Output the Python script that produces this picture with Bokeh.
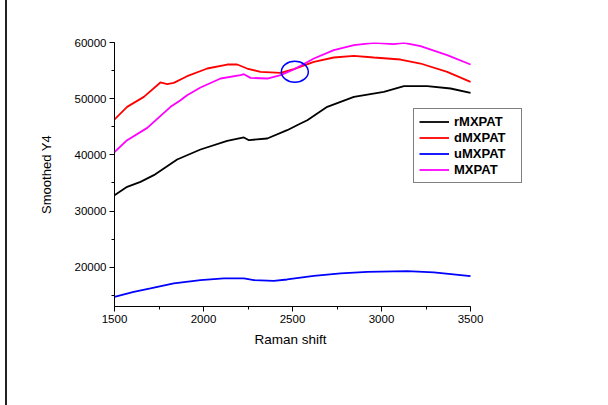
from bokeh.plotting import figure
from bokeh.models import (Legend, LegendItem, SingleIntervalTicker, Range1d, Div,
                          Title)
from bokeh.layouts import row
from bokeh.embed import file_html
from bokeh.resources import INLINE

# Smoothed Raman spectra (Raman shift vs smoothed intensity)
r_x = [1500, 1571, 1646, 1721, 1852, 1983, 2133, 2227, 2255, 2358, 2470, 2545,
       2583, 2695, 2845, 3013, 3126, 3257, 3388, 3500]
r_y = [32820, 34300, 35190, 36380, 39170, 40950, 42490, 43090, 42610, 42910,
       44390, 45580, 46170, 48540, 50320, 51210, 52220, 52220, 51810, 51030]

d_x = [1500, 1571, 1665, 1758, 1796, 1833, 1908, 2021, 2133, 2189, 2245, 2320,
       2433, 2507, 2620, 2732, 2845, 2957, 3107, 3219, 3369, 3500]
d_y = [46300, 48540, 50320, 52880, 52580, 52810, 54000, 55370, 56080, 56080,
       55370, 54770, 54590, 55250, 56550, 57330, 57615, 57330, 56970, 56260,
       54770, 52990]

u_x = [1500, 1608, 1702, 1833, 1983, 2114, 2227, 2283, 2395, 2470, 2620, 2770,
       2920, 3144, 3294, 3500]
u_y = [14720, 15610, 16210, 17100, 17690, 17990, 17990, 17690, 17570, 17810,
       18450, 18880, 19170, 19290, 19060, 18400]

m_x = [1500, 1571, 1684, 1815, 1871, 1908, 1983, 2096, 2208, 2227, 2264, 2358,
       2433, 2507, 2620, 2732, 2845, 2957, 3069, 3126, 3219, 3369, 3500]
m_y = [40500, 42610, 44800, 48540, 49730, 50620, 51990, 53590, 54180, 54360,
       53700, 53590, 54180, 55190, 57150, 58630, 59520, 59930, 59700, 59930,
       59340, 57740, 56080]

series_names = ["rMXPAT", "dMXPAT", "uMXPAT", "MXPAT"]
series_colors = ["#000000", "#ff0000", "#0000ff", "#ff00ff"]

# crossing point of dMXPAT and MXPAT, highlighted with an ellipse
cross_x = 2513
cross_y = 54790

X_START, X_END = 1500, 3500
FONT = "Liberation Sans"

# the frame runs on past 3500 so the legend box fits inside it;
# the x axis itself is bounded to 1500-3500
p = figure(width=601, height=405, output_backend="svg", toolbar_location=None,
           x_range=Range1d(X_START, 3865), y_range=Range1d(13000, 60000),
           min_border_left=107, min_border_right=73, min_border_top=42,
           min_border_bottom=99)
p.outline_line_color = None
p.grid.visible = False
p.background_fill_color = "white"
p.border_fill_color = "white"

renderers = []
for xs, ys, col in [(r_x, r_y, series_colors[0]), (d_x, d_y, series_colors[1]),
                    (u_x, u_y, series_colors[2]), (m_x, m_y, series_colors[3])]:
    renderers.append(p.line(xs, ys, line_color=col, line_width=1.8))

p.ellipse(x=[cross_x], y=[cross_y], width=27, height=21,
          width_units="screen", height_units="screen",
          fill_alpha=0, line_color="#0000ff", line_width=1.5)

# axes
p.xaxis.ticker = SingleIntervalTicker(interval=500, num_minor_ticks=2)
p.yaxis.ticker = SingleIntervalTicker(interval=10000, num_minor_ticks=2)
p.xaxis.bounds = (X_START, X_END)
for ax in (p.xaxis[0], p.yaxis[0]):
    ax.axis_line_color = "black"
    ax.axis_line_width = 1
    ax.major_tick_line_color = "black"
    ax.minor_tick_line_color = "black"
    ax.major_tick_in = 0
    ax.major_tick_out = 5
    ax.minor_tick_in = 0
    ax.minor_tick_out = 3
    ax.major_label_text_font = FONT
    ax.major_label_text_font_size = "11.5px"
    ax.major_label_text_color = "black"
    ax.major_label_standoff = 3
    ax.axis_label_text_font = FONT
    ax.axis_label_text_font_size = "13px"
    ax.axis_label_text_font_style = "normal"
    ax.axis_label_text_color = "black"
p.yaxis.axis_label = "Smoothed Y4"
p.yaxis.axis_label_standoff = 18

# x axis title, centred under the bounded 1500-3500 axis
p.add_layout(Title(text="Raman shift", align="left", offset=140, standoff=9,
                   text_font=FONT, text_font_size="13.5px",
                   text_font_style="normal", text_color="black"), "below")

legend = Legend(items=[LegendItem(label=n, renderers=[r])
                       for n, r in zip(series_names, renderers)],
                location=(299, 123), orientation="vertical",
                label_text_font=FONT, label_text_font_style="bold",
                label_text_font_size="13px", label_text_color="black",
                glyph_width=30, glyph_height=15, label_height=15,
                label_width=62, label_standoff=5, spacing=1, padding=5,
                margin=0, border_line_color="black", border_line_width=1,
                background_fill_alpha=1)
p.add_layout(legend, "center")

# page border line at the left edge
gap = Div(width=5, height=405, margin=0)
edge = Div(width=2, height=405, margin=0, styles={"background-color": "#222222"})

layout = row(gap, edge, p, spacing=0)
open("out.html", "w").write(file_html(layout, INLINE))
